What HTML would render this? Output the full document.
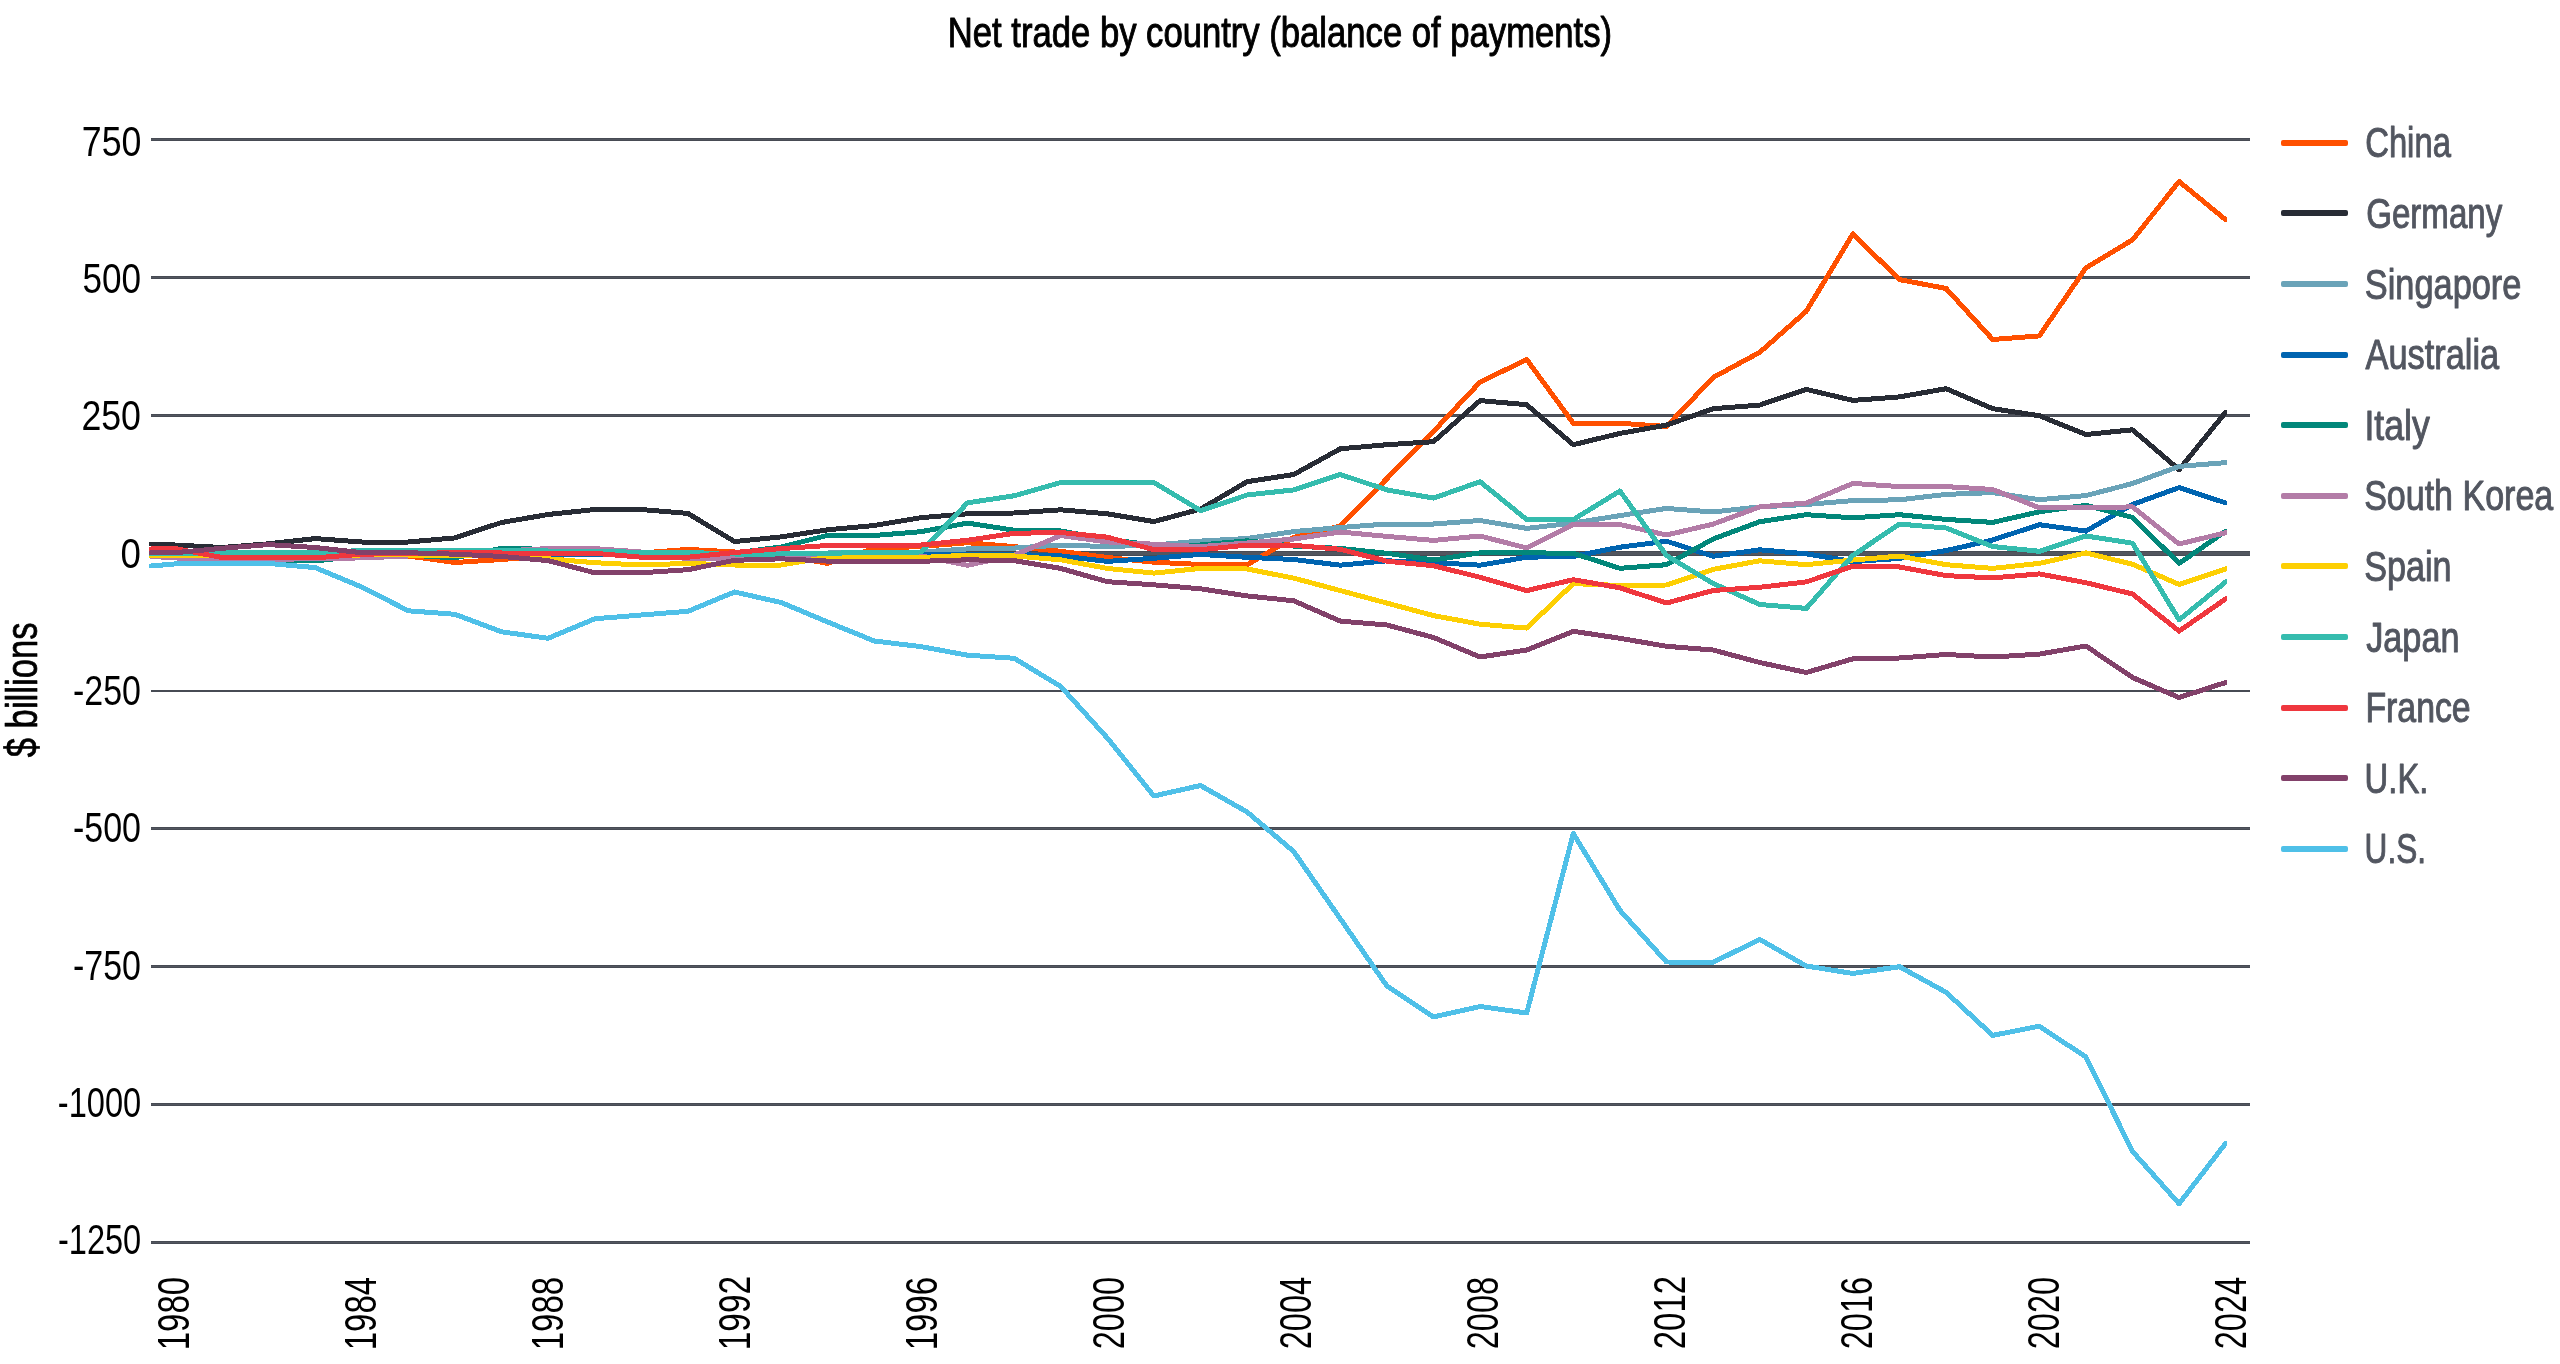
<!DOCTYPE html>
<html><head><meta charset="utf-8"><title>Net trade by country</title>
<style>
html,body{margin:0;padding:0;background:#fff;width:2560px;height:1364px;overflow:hidden;}
svg{display:block;will-change:transform;}
text{font-family:"Liberation Sans", sans-serif;}
</style></head><body>
<svg width="2560" height="1364" viewBox="0 0 2560 1364">
<rect x="0" y="0" width="2560" height="1364" fill="#fff"/>
<defs><clipPath id="pc"><rect x="149" y="60" width="2078" height="1250"/></clipPath></defs>
<g shape-rendering="crispEdges">
<rect x="151" y="138" width="2099" height="3" fill="#474b54"/>
<rect x="151" y="139" width="2099" height="1" fill="#52565f"/>
<rect x="151" y="276" width="2099" height="3" fill="#474b54"/>
<rect x="151" y="277" width="2099" height="1" fill="#52565f"/>
<rect x="151" y="414" width="2099" height="3" fill="#474b54"/>
<rect x="151" y="415" width="2099" height="1" fill="#52565f"/>
<rect x="151" y="551" width="2099" height="5" fill="#474b54"/>
<rect x="151" y="552" width="2099" height="3" fill="#52565f"/>
<rect x="151" y="690" width="2099" height="2" fill="#474b54"/>
<rect x="151" y="827" width="2099" height="3" fill="#474b54"/>
<rect x="151" y="828" width="2099" height="1" fill="#52565f"/>
<rect x="151" y="965" width="2099" height="3" fill="#474b54"/>
<rect x="151" y="966" width="2099" height="1" fill="#52565f"/>
<rect x="151" y="1103" width="2099" height="3" fill="#474b54"/>
<rect x="151" y="1104" width="2099" height="1" fill="#52565f"/>
<rect x="151" y="1241" width="2099" height="3" fill="#474b54"/>
<rect x="151" y="1242" width="2099" height="1" fill="#52565f"/>
</g>
<g clip-path="url(#pc)" fill="none" stroke-width="5" stroke-linejoin="round" stroke-linecap="round" shape-rendering="crispEdges">
<path d="M151.0,553.0 L175.3,553.0 L221.9,553.0 L268.5,553.0 L315.1,553.0 L361.7,554.0 L408.3,556.0 L454.9,562.5 L501.5,559.5 L548.1,556.0 L594.7,553.0 L641.3,553.0 L687.9,549.4 L734.5,552.0 L781.1,555.0 L827.7,563.4 L874.3,548.5 L920.9,546.5 L967.5,542.7 L1014.1,546.6 L1060.7,551.3 L1107.3,557.5 L1153.9,562.2 L1200.5,564.5 L1247.1,564.8 L1293.7,537.5 L1340.3,526.0 L1386.9,478.6 L1433.5,431.4 L1480.1,382.1 L1526.7,359.5 L1573.3,423.2 L1619.9,423.2 L1666.5,426.5 L1713.1,377.5 L1759.7,352.4 L1806.3,311.3 L1852.9,233.9 L1899.5,279.6 L1946.1,288.5 L1992.7,339.5 L2039.3,335.9 L2085.9,267.9 L2132.5,239.8 L2179.1,181.5 L2225.7,219.8" stroke="#ff5000"/>
<path d="M151.0,544.0 L175.3,545.0 L221.9,547.5 L268.5,543.8 L315.1,538.6 L361.7,542.0 L408.3,542.0 L454.9,537.9 L501.5,522.5 L548.1,514.5 L594.7,509.5 L641.3,509.5 L687.9,513.4 L734.5,541.6 L781.1,536.9 L827.7,529.8 L874.3,525.5 L920.9,517.7 L967.5,513.8 L1014.1,513.0 L1060.7,509.8 L1107.3,513.8 L1153.9,521.6 L1200.5,509.1 L1247.1,481.7 L1293.7,474.5 L1340.3,448.8 L1386.9,444.7 L1433.5,441.7 L1480.1,400.6 L1526.7,404.7 L1573.3,444.7 L1619.9,433.4 L1666.5,425.1 L1713.1,408.7 L1759.7,405.1 L1806.3,389.4 L1852.9,400.4 L1899.5,396.9 L1946.1,388.7 L1992.7,408.7 L2039.3,415.7 L2085.9,434.5 L2132.5,429.8 L2179.1,469.6 L2225.7,412.2" stroke="#282c35"/>
<path d="M151.0,553.0 L175.3,553.0 L221.9,553.0 L268.5,553.0 L315.1,553.0 L361.7,553.0 L408.3,553.0 L454.9,553.0 L501.5,553.0 L548.1,553.0 L594.7,553.0 L641.3,553.0 L687.9,553.0 L734.5,553.0 L781.1,553.0 L827.7,553.0 L874.3,552.0 L920.9,552.0 L967.5,548.9 L1014.1,548.1 L1060.7,545.0 L1107.3,546.6 L1153.9,545.0 L1200.5,541.1 L1247.1,538.5 L1293.7,531.6 L1340.3,527.5 L1386.9,524.0 L1433.5,524.0 L1480.1,520.5 L1526.7,528.4 L1573.3,523.0 L1619.9,515.6 L1666.5,508.4 L1713.1,512.0 L1759.7,506.9 L1806.3,504.5 L1852.9,500.6 L1899.5,499.8 L1946.1,494.4 L1992.7,492.6 L2039.3,499.7 L2085.9,495.6 L2132.5,483.5 L2179.1,466.4 L2225.7,462.6" stroke="#6aa3b8"/>
<path d="M151.0,556.0 L175.3,556.0 L221.9,556.0 L268.5,557.0 L315.1,557.0 L361.7,554.0 L408.3,554.0 L454.9,554.0 L501.5,554.0 L548.1,554.0 L594.7,555.0 L641.3,555.0 L687.9,556.0 L734.5,556.0 L781.1,556.0 L827.7,556.0 L874.3,555.0 L920.9,554.5 L967.5,554.5 L1014.1,554.5 L1060.7,555.9 L1107.3,561.4 L1153.9,558.3 L1200.5,554.4 L1247.1,557.3 L1293.7,559.5 L1340.3,565.2 L1386.9,560.8 L1433.5,562.6 L1480.1,565.2 L1526.7,557.2 L1573.3,556.4 L1619.9,547.2 L1666.5,541.2 L1713.1,556.3 L1759.7,549.8 L1806.3,553.8 L1852.9,561.6 L1899.5,558.4 L1946.1,550.6 L1992.7,540.0 L2039.3,524.7 L2085.9,531.1 L2132.5,504.5 L2179.1,487.6 L2225.7,502.9" stroke="#0064b0"/>
<path d="M151.0,556.0 L175.3,556.0 L221.9,560.9 L268.5,560.9 L315.1,560.9 L361.7,556.0 L408.3,555.0 L454.9,557.9 L501.5,548.3 L548.1,549.4 L594.7,553.0 L641.3,553.0 L687.9,553.0 L734.5,553.0 L781.1,547.0 L827.7,535.3 L874.3,535.5 L920.9,531.7 L967.5,523.1 L1014.1,530.2 L1060.7,530.9 L1107.3,539.5 L1153.9,545.0 L1200.5,545.0 L1247.1,540.8 L1293.7,546.1 L1340.3,548.4 L1386.9,553.3 L1433.5,560.0 L1480.1,552.8 L1526.7,552.8 L1573.3,553.3 L1619.9,568.3 L1666.5,564.7 L1713.1,539.0 L1759.7,521.7 L1806.3,514.7 L1852.9,517.8 L1899.5,514.7 L1946.1,519.4 L1992.7,522.4 L2039.3,511.8 L2085.9,505.3 L2132.5,517.4 L2179.1,563.4 L2225.7,531.1" stroke="#02877a"/>
<path d="M151.0,556.4 L175.3,557.9 L221.9,560.2 L268.5,559.4 L315.1,558.7 L361.7,557.9 L408.3,556.0 L454.9,554.0 L501.5,551.0 L548.1,548.6 L594.7,548.6 L641.3,552.0 L687.9,558.8 L734.5,558.8 L781.1,555.6 L827.7,555.6 L874.3,555.9 L920.9,555.9 L967.5,565.3 L1014.1,555.2 L1060.7,535.6 L1107.3,541.9 L1153.9,544.2 L1200.5,546.6 L1247.1,543.0 L1293.7,539.0 L1340.3,532.0 L1386.9,536.4 L1433.5,540.4 L1480.1,536.0 L1526.7,548.0 L1573.3,524.4 L1619.9,524.5 L1666.5,535.0 L1713.1,524.1 L1759.7,506.9 L1806.3,503.0 L1852.9,483.4 L1899.5,486.6 L1946.1,486.6 L1992.7,489.5 L2039.3,507.7 L2085.9,507.7 L2132.5,506.9 L2179.1,544.0 L2225.7,532.7" stroke="#b37ca7"/>
<path d="M151.0,555.7 L175.3,555.7 L221.9,555.4 L268.5,555.4 L315.1,555.4 L361.7,555.0 L408.3,555.0 L454.9,555.0 L501.5,555.6 L548.1,558.8 L594.7,562.7 L641.3,565.0 L687.9,563.4 L734.5,565.0 L781.1,565.0 L827.7,557.2 L874.3,556.5 L920.9,557.5 L967.5,555.2 L1014.1,555.9 L1060.7,559.8 L1107.3,568.4 L1153.9,573.1 L1200.5,568.4 L1247.1,569.0 L1293.7,578.1 L1340.3,590.6 L1386.9,603.1 L1433.5,615.6 L1480.1,624.2 L1526.7,628.1 L1573.3,583.6 L1619.9,585.5 L1666.5,585.0 L1713.1,569.4 L1759.7,560.8 L1806.3,564.7 L1852.9,560.0 L1899.5,556.1 L1946.1,564.7 L1992.7,568.4 L2039.3,563.4 L2085.9,552.9 L2132.5,564.2 L2179.1,584.4 L2225.7,569.0" stroke="#fdcf03"/>
<path d="M151.0,553.5 L175.3,553.5 L221.9,552.7 L268.5,552.7 L315.1,552.7 L361.7,550.5 L408.3,550.5 L454.9,550.5 L501.5,550.5 L548.1,551.0 L594.7,551.0 L641.3,552.5 L687.9,552.5 L734.5,554.0 L781.1,554.0 L827.7,553.3 L874.3,552.3 L920.9,552.0 L967.5,502.8 L1014.1,495.8 L1060.7,482.5 L1107.3,482.5 L1153.9,482.5 L1200.5,510.6 L1247.1,495.0 L1293.7,489.9 L1340.3,474.5 L1386.9,489.9 L1433.5,498.1 L1480.1,481.7 L1526.7,519.6 L1573.3,519.6 L1619.9,491.0 L1666.5,555.5 L1713.1,583.4 L1759.7,604.5 L1806.3,608.4 L1852.9,555.3 L1899.5,524.1 L1946.1,528.0 L1992.7,546.5 L2039.3,551.3 L2085.9,536.0 L2132.5,543.2 L2179.1,619.8 L2225.7,581.9" stroke="#35bcae"/>
<path d="M151.0,549.0 L175.3,548.6 L221.9,557.5 L268.5,557.9 L315.1,557.9 L361.7,554.2 L408.3,553.5 L454.9,552.7 L501.5,553.0 L548.1,553.3 L594.7,553.3 L641.3,557.2 L687.9,557.2 L734.5,552.5 L781.1,548.6 L827.7,545.5 L874.3,545.6 L920.9,545.0 L967.5,540.3 L1014.1,533.3 L1060.7,532.5 L1107.3,537.2 L1153.9,549.7 L1200.5,549.7 L1247.1,545.1 L1293.7,545.3 L1340.3,549.3 L1386.9,561.2 L1433.5,565.7 L1480.1,577.3 L1526.7,590.6 L1573.3,579.7 L1619.9,587.8 L1666.5,603.0 L1713.1,590.5 L1759.7,587.3 L1806.3,581.9 L1852.9,566.3 L1899.5,567.0 L1946.1,575.6 L1992.7,577.9 L2039.3,573.9 L2085.9,582.7 L2132.5,594.0 L2179.1,631.1 L2225.7,598.9" stroke="#ef373e"/>
<path d="M151.0,552.7 L175.3,552.7 L221.9,548.3 L268.5,544.6 L315.1,547.5 L361.7,552.7 L408.3,552.7 L454.9,554.2 L501.5,556.4 L548.1,560.6 L594.7,572.8 L641.3,572.8 L687.9,569.7 L734.5,560.3 L781.1,558.8 L827.7,561.1 L874.3,561.5 L920.9,561.3 L967.5,559.8 L1014.1,560.6 L1060.7,568.4 L1107.3,581.7 L1153.9,584.8 L1200.5,588.8 L1247.1,595.9 L1293.7,600.8 L1340.3,621.1 L1386.9,625.0 L1433.5,637.5 L1480.1,657.0 L1526.7,650.0 L1573.3,631.3 L1619.9,638.3 L1666.5,646.3 L1713.1,650.0 L1759.7,662.5 L1806.3,672.5 L1852.9,658.8 L1899.5,658.0 L1946.1,654.5 L1992.7,657.0 L2039.3,654.1 L2085.9,646.0 L2132.5,677.5 L2179.1,697.5 L2225.7,682.5" stroke="#82416a"/>
<path d="M151.0,566.0 L175.3,563.9 L221.9,563.1 L268.5,563.4 L315.1,567.6 L361.7,587.0 L408.3,610.8 L454.9,614.3 L501.5,631.8 L548.1,638.3 L594.7,618.8 L641.3,615.0 L687.9,611.3 L734.5,592.0 L781.1,602.5 L827.7,622.0 L874.3,641.0 L920.9,646.6 L967.5,655.2 L1014.1,658.3 L1060.7,686.4 L1107.3,738.0 L1153.9,796.0 L1200.5,785.5 L1247.1,812.0 L1293.7,851.5 L1340.3,918.8 L1386.9,986.0 L1433.5,1016.9 L1480.1,1006.5 L1526.7,1013.0 L1573.3,833.5 L1619.9,910.3 L1666.5,962.0 L1713.1,962.3 L1759.7,939.4 L1806.3,966.0 L1852.9,973.5 L1899.5,966.7 L1946.1,992.3 L1992.7,1035.4 L2039.3,1026.2 L2085.9,1057.0 L2132.5,1151.4 L2179.1,1203.7 L2225.7,1143.2" stroke="#4fc0e8"/>
</g>
<rect x="2281" y="140" width="67" height="6" rx="2" fill="#ff5000"/>
<rect x="2281" y="210" width="67" height="6" rx="2" fill="#282c35"/>
<rect x="2281" y="281" width="67" height="6" rx="2" fill="#6aa3b8"/>
<rect x="2281" y="352" width="67" height="6" rx="2" fill="#0064b0"/>
<rect x="2281" y="422" width="67" height="6" rx="2" fill="#02877a"/>
<rect x="2281" y="493" width="67" height="6" rx="2" fill="#b37ca7"/>
<rect x="2281" y="563" width="67" height="6" rx="2" fill="#fdcf03"/>
<rect x="2281" y="634" width="67" height="6" rx="2" fill="#35bcae"/>
<rect x="2281" y="705" width="67" height="6" rx="2" fill="#ef373e"/>
<rect x="2281" y="775" width="67" height="6" rx="2" fill="#82416a"/>
<rect x="2281" y="846" width="67" height="6" rx="2" fill="#4fc0e8"/>
<text x="947.80" y="47.40" font-family="&quot;Liberation Sans&quot;, sans-serif" font-size="43" font-weight="normal" fill="#000" stroke="#000" stroke-width="1.0" stroke-linejoin="round" text-anchor="start" textLength="664.20" lengthAdjust="spacingAndGlyphs">Net trade by country (balance of payments)</text>
<text x="141.40" y="155.80" font-family="&quot;Liberation Sans&quot;, sans-serif" font-size="43" font-weight="normal" fill="#000" text-anchor="end" textLength="59.60" lengthAdjust="spacingAndGlyphs">750</text>
<text x="141.00" y="293.10" font-family="&quot;Liberation Sans&quot;, sans-serif" font-size="43" font-weight="normal" fill="#000" text-anchor="end" textLength="58.60" lengthAdjust="spacingAndGlyphs">500</text>
<text x="141.00" y="430.40" font-family="&quot;Liberation Sans&quot;, sans-serif" font-size="43" font-weight="normal" fill="#000" text-anchor="end" textLength="59.60" lengthAdjust="spacingAndGlyphs">250</text>
<text x="141.00" y="567.70" font-family="&quot;Liberation Sans&quot;, sans-serif" font-size="43" font-weight="normal" fill="#000" text-anchor="end" textLength="20.40" lengthAdjust="spacingAndGlyphs">0</text>
<text x="141.00" y="705.00" font-family="&quot;Liberation Sans&quot;, sans-serif" font-size="43" font-weight="normal" fill="#000" text-anchor="end" textLength="68.00" lengthAdjust="spacingAndGlyphs">-250</text>
<text x="141.00" y="842.30" font-family="&quot;Liberation Sans&quot;, sans-serif" font-size="43" font-weight="normal" fill="#000" text-anchor="end" textLength="68.00" lengthAdjust="spacingAndGlyphs">-500</text>
<text x="141.00" y="979.60" font-family="&quot;Liberation Sans&quot;, sans-serif" font-size="43" font-weight="normal" fill="#000" text-anchor="end" textLength="68.00" lengthAdjust="spacingAndGlyphs">-750</text>
<text x="141.20" y="1116.90" font-family="&quot;Liberation Sans&quot;, sans-serif" font-size="43" font-weight="normal" fill="#000" text-anchor="end" textLength="83.40" lengthAdjust="spacingAndGlyphs">-1000</text>
<text x="141.20" y="1254.20" font-family="&quot;Liberation Sans&quot;, sans-serif" font-size="43" font-weight="normal" fill="#000" text-anchor="end" textLength="83.20" lengthAdjust="spacingAndGlyphs">-1250</text>
<text transform="translate(36.80,757.30) rotate(-90)" font-family="&quot;Liberation Sans&quot;, sans-serif" font-size="44" font-weight="normal" fill="#000" stroke="#000" stroke-width="0.7" stroke-linejoin="round" text-anchor="start" textLength="134.90" lengthAdjust="spacingAndGlyphs">$ billions</text>
<text transform="translate(188.90,1350.30) rotate(-90)" font-family="&quot;Liberation Sans&quot;, sans-serif" font-size="44.5" font-weight="normal" fill="#000" text-anchor="start" textLength="73.40" lengthAdjust="spacingAndGlyphs">1980</text>
<text transform="translate(375.90,1350.30) rotate(-90)" font-family="&quot;Liberation Sans&quot;, sans-serif" font-size="44.5" font-weight="normal" fill="#000" text-anchor="start" textLength="73.40" lengthAdjust="spacingAndGlyphs">1984</text>
<text transform="translate(562.90,1350.30) rotate(-90)" font-family="&quot;Liberation Sans&quot;, sans-serif" font-size="44.5" font-weight="normal" fill="#000" text-anchor="start" textLength="73.40" lengthAdjust="spacingAndGlyphs">1988</text>
<text transform="translate(749.90,1350.30) rotate(-90)" font-family="&quot;Liberation Sans&quot;, sans-serif" font-size="44.5" font-weight="normal" fill="#000" text-anchor="start" textLength="74.40" lengthAdjust="spacingAndGlyphs">1992</text>
<text transform="translate(936.90,1350.30) rotate(-90)" font-family="&quot;Liberation Sans&quot;, sans-serif" font-size="44.5" font-weight="normal" fill="#000" text-anchor="start" textLength="73.40" lengthAdjust="spacingAndGlyphs">1996</text>
<text transform="translate(1123.90,1349.30) rotate(-90)" font-family="&quot;Liberation Sans&quot;, sans-serif" font-size="44.5" font-weight="normal" fill="#000" text-anchor="start" textLength="72.40" lengthAdjust="spacingAndGlyphs">2000</text>
<text transform="translate(1310.90,1349.30) rotate(-90)" font-family="&quot;Liberation Sans&quot;, sans-serif" font-size="44.5" font-weight="normal" fill="#000" text-anchor="start" textLength="72.40" lengthAdjust="spacingAndGlyphs">2004</text>
<text transform="translate(1497.90,1349.30) rotate(-90)" font-family="&quot;Liberation Sans&quot;, sans-serif" font-size="44.5" font-weight="normal" fill="#000" text-anchor="start" textLength="72.40" lengthAdjust="spacingAndGlyphs">2008</text>
<text transform="translate(1684.90,1349.30) rotate(-90)" font-family="&quot;Liberation Sans&quot;, sans-serif" font-size="44.5" font-weight="normal" fill="#000" text-anchor="start" textLength="73.40" lengthAdjust="spacingAndGlyphs">2012</text>
<text transform="translate(1871.90,1349.30) rotate(-90)" font-family="&quot;Liberation Sans&quot;, sans-serif" font-size="44.5" font-weight="normal" fill="#000" text-anchor="start" textLength="72.40" lengthAdjust="spacingAndGlyphs">2016</text>
<text transform="translate(2058.90,1349.30) rotate(-90)" font-family="&quot;Liberation Sans&quot;, sans-serif" font-size="44.5" font-weight="normal" fill="#000" text-anchor="start" textLength="72.40" lengthAdjust="spacingAndGlyphs">2020</text>
<text transform="translate(2245.90,1349.30) rotate(-90)" font-family="&quot;Liberation Sans&quot;, sans-serif" font-size="44.5" font-weight="normal" fill="#000" text-anchor="start" textLength="72.40" lengthAdjust="spacingAndGlyphs">2024</text>
<text x="2365.20" y="157.40" font-family="&quot;Liberation Sans&quot;, sans-serif" font-size="43" font-weight="normal" fill="#525660" stroke="#525660" stroke-width="1.0" stroke-linejoin="round" text-anchor="start" textLength="85.70" lengthAdjust="spacingAndGlyphs">China</text>
<text x="2366.20" y="228.00" font-family="&quot;Liberation Sans&quot;, sans-serif" font-size="43" font-weight="normal" fill="#525660" stroke="#525660" stroke-width="1.0" stroke-linejoin="round" text-anchor="start" textLength="136.10" lengthAdjust="spacingAndGlyphs">Germany</text>
<text x="2364.80" y="298.60" font-family="&quot;Liberation Sans&quot;, sans-serif" font-size="43" font-weight="normal" fill="#525660" stroke="#525660" stroke-width="1.0" stroke-linejoin="round" text-anchor="start" textLength="156.60" lengthAdjust="spacingAndGlyphs">Singapore</text>
<text x="2365.60" y="369.20" font-family="&quot;Liberation Sans&quot;, sans-serif" font-size="43" font-weight="normal" fill="#525660" stroke="#525660" stroke-width="1.0" stroke-linejoin="round" text-anchor="start" textLength="133.60" lengthAdjust="spacingAndGlyphs">Australia</text>
<text x="2364.40" y="439.80" font-family="&quot;Liberation Sans&quot;, sans-serif" font-size="43" font-weight="normal" fill="#525660" stroke="#525660" stroke-width="1.0" stroke-linejoin="round" text-anchor="start" textLength="65.30" lengthAdjust="spacingAndGlyphs">Italy</text>
<text x="2364.20" y="510.40" font-family="&quot;Liberation Sans&quot;, sans-serif" font-size="43" font-weight="normal" fill="#525660" stroke="#525660" stroke-width="1.0" stroke-linejoin="round" text-anchor="start" textLength="189.00" lengthAdjust="spacingAndGlyphs">South Korea</text>
<text x="2364.20" y="580.90" font-family="&quot;Liberation Sans&quot;, sans-serif" font-size="43" font-weight="normal" fill="#525660" stroke="#525660" stroke-width="1.0" stroke-linejoin="round" text-anchor="start" textLength="87.30" lengthAdjust="spacingAndGlyphs">Spain</text>
<text x="2366.20" y="651.50" font-family="&quot;Liberation Sans&quot;, sans-serif" font-size="43" font-weight="normal" fill="#525660" stroke="#525660" stroke-width="1.0" stroke-linejoin="round" text-anchor="start" textLength="93.30" lengthAdjust="spacingAndGlyphs">Japan</text>
<text x="2365.40" y="722.10" font-family="&quot;Liberation Sans&quot;, sans-serif" font-size="43" font-weight="normal" fill="#525660" stroke="#525660" stroke-width="1.0" stroke-linejoin="round" text-anchor="start" textLength="105.30" lengthAdjust="spacingAndGlyphs">France</text>
<text x="2364.60" y="792.70" font-family="&quot;Liberation Sans&quot;, sans-serif" font-size="43" font-weight="normal" fill="#525660" stroke="#525660" stroke-width="1.0" stroke-linejoin="round" text-anchor="start" textLength="63.80" lengthAdjust="spacingAndGlyphs">U.K.</text>
<text x="2364.60" y="863.30" font-family="&quot;Liberation Sans&quot;, sans-serif" font-size="43" font-weight="normal" fill="#525660" stroke="#525660" stroke-width="1.0" stroke-linejoin="round" text-anchor="start" textLength="61.40" lengthAdjust="spacingAndGlyphs">U.S.</text>
</svg></body></html>
